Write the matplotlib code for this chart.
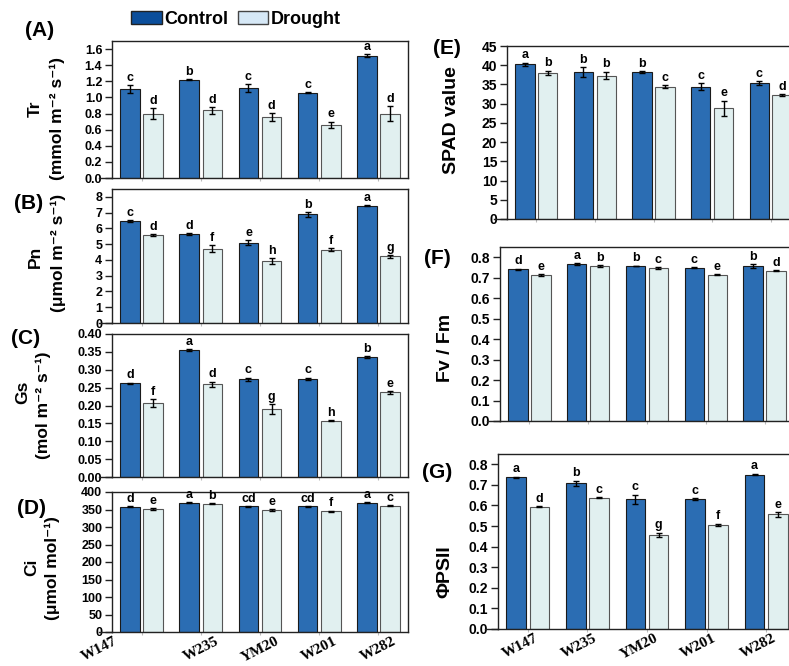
import matplotlib
matplotlib.use('Agg')
import matplotlib.pyplot as plt
import matplotlib.transforms as mtransforms
from matplotlib.patches import Patch
import numpy as np

plt.rcParams['font.family'] = ['Liberation Sans', 'DejaVu Sans']
plt.rcParams['font.weight'] = 'bold'

W, H = 789, 666

genotypes = ['W147', 'W235', 'YM20', 'W201', 'W282']
treatments = ['Control', 'Drought']

# (A) Transpiration rate Tr
tr_ctrl = [1.10, 1.22, 1.12, 1.06, 1.52]
tr_ctrl_err = [0.05, 0.01, 0.05, 0.01, 0.02]
tr_drought = [0.80, 0.84, 0.76, 0.66, 0.80]
tr_drought_err = [0.07, 0.04, 0.05, 0.04, 0.09]
tr_ctrl_let = ['c', 'b', 'c', 'c', 'a']
tr_drought_let = ['d', 'd', 'd', 'e', 'd']

# (B) Net photosynthesis Pn
pn_ctrl = [6.45, 5.65, 5.10, 6.90, 7.45]
pn_ctrl_err = [0.07, 0.07, 0.15, 0.15, 0.05]
pn_drought = [5.60, 4.72, 3.95, 4.65, 4.22]
pn_drought_err = [0.05, 0.20, 0.20, 0.10, 0.08]
pn_ctrl_let = ['c', 'd', 'e', 'b', 'a']
pn_drought_let = ['d', 'f', 'h', 'f', 'g']

# (C) Stomatal conductance Gs
gs_ctrl = [0.262, 0.355, 0.273, 0.275, 0.335]
gs_ctrl_err = [0.002, 0.002, 0.005, 0.003, 0.003]
gs_drought = [0.207, 0.260, 0.190, 0.158, 0.237]
gs_drought_err = [0.012, 0.007, 0.013, 0.002, 0.004]
gs_ctrl_let = ['d', 'a', 'c', 'c', 'b']
gs_drought_let = ['f', 'd', 'g', 'h', 'e']

# (D) Intercellular CO2 Ci
ci_ctrl = [358, 369, 359, 359, 369]
ci_ctrl_err = [1.5, 1.5, 1.5, 1.5, 1.5]
ci_drought = [351, 366, 349, 345, 361]
ci_drought_err = [2.5, 1.5, 2.5, 2.0, 1.5]
ci_ctrl_let = ['d', 'a', 'cd', 'cd', 'a']
ci_drought_let = ['e', 'b', 'e', 'f', 'c']

# (E) SPAD value
spad_ctrl = [40.2, 38.2, 38.3, 34.4, 35.3]
spad_ctrl_err = [0.5, 1.3, 0.2, 0.9, 0.5]
spad_drought = [38.0, 37.3, 34.4, 28.8, 32.2]
spad_drought_err = [0.6, 1.0, 0.4, 2.0, 0.3]
spad_ctrl_let = ['a', 'b', 'b', 'c', 'c']
spad_drought_let = ['b', 'b', 'c', 'e', 'd']

# (F) Fv/Fm
fvfm_ctrl = [0.741, 0.766, 0.757, 0.748, 0.757]
fvfm_ctrl_err = [0.003, 0.004, 0.002, 0.003, 0.008]
fvfm_drought = [0.712, 0.756, 0.746, 0.715, 0.735]
fvfm_drought_err = [0.004, 0.005, 0.004, 0.003, 0.003]
fvfm_ctrl_let = ['d', 'a', 'b', 'c', 'b']
fvfm_drought_let = ['e', 'b', 'c', 'e', 'd']

# (G) PhiPSII
phi_ctrl = [0.736, 0.708, 0.630, 0.632, 0.750]
phi_ctrl_err = [0.004, 0.012, 0.022, 0.003, 0.004]
phi_drought = [0.594, 0.638, 0.458, 0.505, 0.557]
phi_drought_err = [0.003, 0.002, 0.009, 0.006, 0.011]
phi_ctrl_let = ['a', 'b', 'c', 'c', 'a']
phi_drought_let = ['d', 'c', 'g', 'f', 'e']

C_CTRL = '#2b6db3'
C_DRY = '#e1f0f0'

def rect(l, t, r, b):
    return [l / W, 1 - b / H, (r - l) / W, (b - t) / H]

panels = [
    dict(tag='(A)', box=rect(112, 41, 408, 178), top=1.7, ticks=np.arange(0, 1.61, 0.2), fmt='{:.1f}',
         ctrl=tr_ctrl, ce=tr_ctrl_err, dry=tr_drought, de=tr_drought_err, cl=tr_ctrl_let, dl=tr_drought_let,
         ylab=['Tr', '(mmol m⁻² s⁻¹)'], ylpos=[(35, 109), (57, 119)], tagpos=(40, 31), xl=False, tsize=9, ylsize=12.5),
    dict(tag='(B)', box=rect(112, 189, 408, 323), top=8.5, ticks=np.arange(0, 9, 1), fmt='{:.0f}',
         ctrl=pn_ctrl, ce=pn_ctrl_err, dry=pn_drought, de=pn_drought_err, cl=pn_ctrl_let, dl=pn_drought_let,
         ylab=['Pn', '(μmol m⁻² s⁻¹)'], ylpos=[(35, 257), (58, 253)], tagpos=(29, 203), xl=False, tsize=9, ylsize=12.5),
    dict(tag='(C)', box=rect(112, 334, 408, 477), top=0.40, ticks=np.arange(0, 0.401, 0.05), fmt='{:.2f}',
         ctrl=gs_ctrl, ce=gs_ctrl_err, dry=gs_drought, de=gs_drought_err, cl=gs_ctrl_let, dl=gs_drought_let,
         ylab=['Gs', '(mol m⁻² s⁻¹)'], ylpos=[(23, 392), (43, 405)], tagpos=(26, 338), xl=False, tsize=9, ylsize=12.5),
    dict(tag='(D)', box=rect(112, 492, 408, 632), top=400, ticks=np.arange(0, 401, 50), fmt='{:.0f}',
         ctrl=ci_ctrl, ce=ci_ctrl_err, dry=ci_drought, de=ci_drought_err, cl=ci_ctrl_let, dl=ci_drought_let,
         ylab=['Ci', '(μmol mol⁻¹)'], ylpos=[(32, 567), (52, 568)], tagpos=(31, 508), xl=True, tsize=9, ylsize=12.5),
    dict(tag='(E)', box=rect(507, 46, 800, 219), top=45, ticks=np.arange(0, 46, 5), fmt='{:.0f}',
         ctrl=spad_ctrl, ce=spad_ctrl_err, dry=spad_drought, de=spad_drought_err, cl=spad_ctrl_let, dl=spad_drought_let,
         ylab=['SPAD value'], ylpos=[(452, 120)], tagpos=(447, 48), xl=False, tsize=10, ylsize=14),
    dict(tag='(F)', box=rect(500, 247, 794, 421), top=0.85, ticks=np.arange(0, 0.81, 0.1), fmt='{:.1f}',
         ctrl=fvfm_ctrl, ce=fvfm_ctrl_err, dry=fvfm_drought, de=fvfm_drought_err, cl=fvfm_ctrl_let, dl=fvfm_drought_let,
         ylab=['Fv / Fm'], ylpos=[(445, 348)], tagpos=(437, 258), xl=False, tsize=10, ylsize=14),
    dict(tag='(G)', box=rect(498, 454, 796, 629), top=0.85, ticks=np.arange(0, 0.81, 0.1), fmt='{:.1f}',
         ctrl=phi_ctrl, ce=phi_ctrl_err, dry=phi_drought, de=phi_drought_err, cl=phi_ctrl_let, dl=phi_drought_let,
         ylab=['ΦPSII'], ylpos=[(445, 572)], tagpos=(437, 473), xl=True, tsize=10, ylsize=14),
]

fig = plt.figure(figsize=(W / 100, H / 100), dpi=100)
x = np.arange(len(genotypes))
off, bw = 0.195, 0.33
ekw = dict(ecolor='black', elinewidth=1.0, capsize=2.5, capthick=1.0)

for p in panels:
    ax = fig.add_axes(p['box'])
    ax.bar(x - off, p['ctrl'], bw, yerr=p['ce'], color=C_CTRL, edgecolor='#1a1a1a', linewidth=0.8,
           error_kw=ekw, zorder=2)
    ax.bar(x + off, p['dry'], bw, yerr=p['de'], color=C_DRY, edgecolor='#555555', linewidth=0.8,
           error_kw=ekw, zorder=2)
    pad = p['top'] * 0.008
    for i in range(len(x)):
        ax.text(x[i] - off, p['ctrl'][i] + p['ce'][i] + pad, p['cl'][i], ha='center', va='bottom',
                fontsize=9, fontweight='bold')
        ax.text(x[i] + off, p['dry'][i] + p['de'][i] + pad, p['dl'][i], ha='center', va='bottom',
                fontsize=9, fontweight='bold')
    ax.set_xlim(-0.5, 4.5)
    ax.set_ylim(0, p['top'])
    ax.set_yticks(p['ticks'])
    ax.set_yticklabels([p['fmt'].format(t) for t in p['ticks']], fontsize=p['tsize'], fontweight='bold')
    ax.tick_params(axis='y', direction='out', length=5, width=1, pad=2, color='#222222')
    ax.set_xticks(x)
    ax.tick_params(axis='x', length=2, color='#bbbbbb', pad=0)
    for s in ax.spines.values():
        s.set_linewidth(1.0)
        s.set_color('#222222')
    ax.axhline(0, xmin=-0.045, xmax=0, color='#222222', lw=1.0, clip_on=False)
    if p['xl']:
        ax.set_xticklabels(genotypes, rotation=27, ha='center', va='top',
                           fontfamily='Liberation Serif', fontsize=11, fontweight='bold')
        for j, lab in enumerate(ax.get_xticklabels()):
            dx = -8
            if p['tag'] == '(D)':
                dx = -42 if j == 0 else 0
            lab.set_transform(lab.get_transform() +
                              mtransforms.ScaledTranslation(dx / 100, 0, fig.dpi_scale_trans))
    else:
        ax.set_xticklabels([])
    for lab, pos in zip(p['ylab'], p['ylpos']):
        fig.text(pos[0] / W, 1 - pos[1] / H, lab, rotation=90, ha='center', va='center',
                 fontsize=p['ylsize'], fontweight='bold')
    fig.text(p['tagpos'][0] / W, 1 - p['tagpos'][1] / H, p['tag'], ha='center', va='center',
             fontsize=15, fontweight='bold')

handles = [Patch(facecolor='#0b4e9b', edgecolor='#222222', linewidth=1.0),
           Patch(facecolor='#d6e8f6', edgecolor='#444444', linewidth=1.0)]
fig.legend(handles, treatments, loc='center', bbox_to_anchor=(236 / W, 1 - 19 / H), ncol=2,
           frameon=False, prop=dict(weight='bold', size=13), handlelength=1.7, handleheight=0.75,
           handletextpad=0.15, columnspacing=0.5, borderpad=0)

fig.savefig('out.png', dpi=100)
